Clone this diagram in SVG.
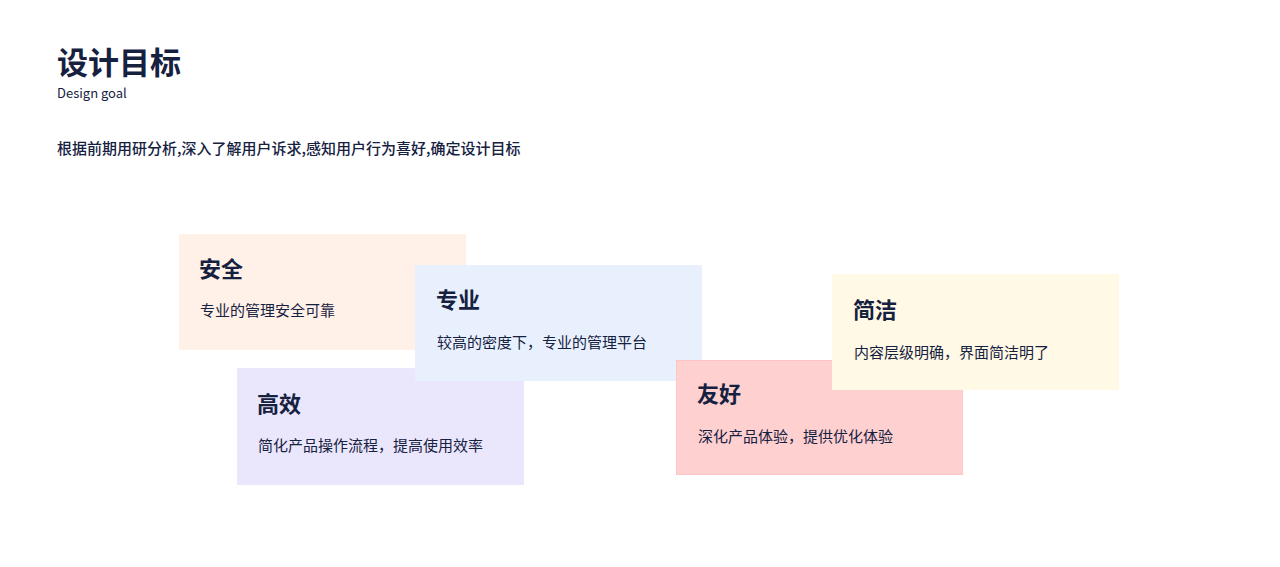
<svg xmlns="http://www.w3.org/2000/svg" width="1280" height="567" viewBox="0 0 1280 567">
<style>
text{font-family:"Noto Sans CJK SC","Noto Sans",sans-serif;fill:#15213F}
.h{font-size:22px;font-weight:700}
.b{font-size:15px}
</style>
<rect width="1280" height="567" fill="#fff"/>
<text x="57" y="74" style="font-size:31px;font-weight:700">设计目标</text>
<text x="57" y="98" style="font-size:13px">Design goal</text>
<text x="57" y="154" style="font-size:15px;font-weight:500">根据前期用研分析,深入了解用户诉求,感知用户行为喜好,确定设计目标</text>
<g id="n-anquan"><rect x="179" y="234" width="287" height="116" fill="#FFF0E8"/><text class="h" x="199" y="277">安全</text><text class="b" x="200" y="316">专业的管理安全可靠</text></g>
<g id="n-gaoxiao"><rect x="237" y="368" width="287" height="117" fill="#EAE6FC"/><text class="h" x="257" y="412">高效</text><text class="b" x="258" y="451">简化产品操作流程，提高使用效率</text></g>
<g id="n-zhuanye"><rect x="415" y="265" width="287" height="116" fill="#E8F0FE"/><text class="h" x="436" y="308">专业</text><text class="b" x="437" y="348">较高的密度下，专业的管理平台</text></g>
<g id="n-youhao"><rect x="676.5" y="360.5" width="286" height="114" fill="#FFD0D0" stroke="#FFC4C4"/><text class="h" x="697" y="402">友好</text><text class="b" x="698" y="442">深化产品体验，提供优化体验</text></g>
<g id="n-jianjie"><rect x="832" y="274" width="287" height="116" fill="#FFF9E6"/><text class="h" x="853" y="318">简洁</text><text class="b" x="854" y="358">内容层级明确，界面简洁明了</text></g>
<g id="connectors"/>
</svg>
